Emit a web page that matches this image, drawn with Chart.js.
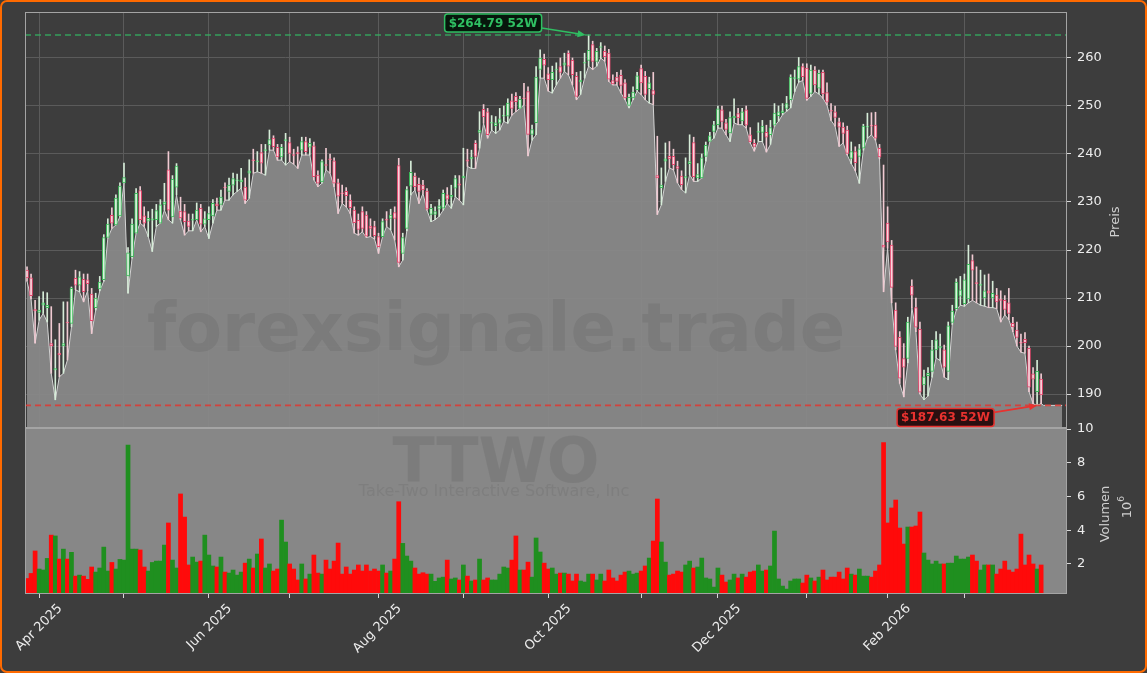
<!doctype html>
<html lang="en">
<head>
<meta charset="utf-8" />
<title>TTWO</title>
<script src="https://cdn.jsdelivr.net/npm/chart.js@4.4.3/dist/chart.umd.min.js"></script>
<style>
  html, body { margin: 0; padding: 0; background: #3d3d3d; }
  #frame { position: relative; width: 1147px; height: 673px; background: #3d3d3d; overflow: hidden; }
  #frame::after { content: ""; position: absolute; inset: 0; border: 2px solid #ff6a00; border-radius: 7px; pointer-events: none; }
  #priceCanvas { position: absolute; left: 0; top: 0; }
  #volCanvas { position: absolute; left: 0; top: 408px; }
</style>
</head>
<body>
<div id="frame">
  <canvas id="priceCanvas" width="1147" height="428"></canvas>
  <canvas id="volCanvas" width="1147" height="265"></canvas>
</div>
<script>
// trading-day index 0 = 27 Mar 2025, 251 = 27 Mar 2026
const monthIdx = [3, 24, 45, 65, 87, 108, 129, 152, 171, 193, 213, 232];
const monthLabels = ["Apr 2025", "", "Jun 2025", "", "Aug 2025", "", "Oct 2025", "", "Dec 2025", "", "Feb 2026", ""];

const openP = [
  215.8, 214.2, 207.6, 207.0, 208.5, 208.0, 200.5, 195.0, 198.5, 200.0,
  205.0, 204.7, 214.1, 212.7, 213.9, 213.8, 210.8, 208.0, 211.9, 213.8,
  222.6, 227.2, 225.2, 227.1, 234.0, 214.6, 218.6, 223.5, 232.4, 227.1,
  226.0, 226.2, 226.3, 225.6, 229.5, 236.7, 226.9, 233.1, 228.1, 228.0,
  226.0, 226.2, 226.3, 228.7, 225.4, 226.3, 227.1, 229.6, 229.5, 233.1,
  232.2, 233.5, 234.4, 234.2, 233.1, 236.0, 238.8, 238.4, 240.3, 240.7,
  241.9, 243.3, 241.4, 239.4, 242.8, 242.4, 239.9, 240.3, 240.8, 242.6,
  241.4, 241.7, 235.6, 234.2, 237.8, 239.0, 238.6, 234.0, 231.9, 232.2,
  230.4, 228.3, 226.2, 228.0, 227.3, 225.0, 224.9, 222.8, 222.8, 226.4,
  226.6, 227.8, 237.6, 219.3, 224.5, 233.3, 235.4, 233.7, 233.5, 232.3,
  227.4, 227.4, 228.5, 228.7, 231.5, 231.0, 232.9, 233.8, 235.0, 238.8,
  239.0, 242.2, 244.5, 249.3, 248.8, 246.4, 245.9, 246.4, 247.9, 247.9,
  251.1, 252.0, 249.5, 251.7, 253.0, 244.1, 246.5, 257.6, 259.7, 256.7,
  255.5, 257.5, 258.2, 258.5, 261.0, 259.5, 256.2, 255.0, 258.9, 259.5,
  262.8, 259.3, 262.2, 261.4, 261.0, 255.3, 256.0, 256.4, 254.8, 250.1,
  251.7, 253.4, 257.8, 256.2, 253.6, 253.2, 235.5, 233.0, 238.5, 239.5,
  239.5, 237.4, 235.4, 235.0, 238.0, 242.4, 235.0, 235.0, 239.5, 242.6,
  244.7, 246.1, 249.2, 246.5, 244.4, 247.5, 248.4, 246.9, 249.2, 244.0,
  242.2, 244.5, 244.5, 244.5, 244.0, 246.0, 248.0, 248.6, 249.5, 251.3,
  255.7, 255.6, 258.2, 257.9, 252.6, 257.5, 253.7, 257.0, 252.8, 249.1,
  248.8, 246.7, 245.6, 245.0, 239.1, 240.5, 239.5, 241.2, 245.6, 246.0,
  246.0, 241.2, 221.0, 225.6, 221.0, 207.5, 201.8, 197.4, 197.4, 212.5,
  208.0, 203.5, 191.9, 193.8, 194.7, 199.2, 199.6, 199.2, 194.7, 204.9,
  207.8, 210.4, 208.8, 209.8, 217.8, 213.2, 212.6, 210.0, 211.5, 210.0,
  210.6, 209.7, 209.5, 209.0, 204.7, 203.3, 200.8, 201.4, 199.5, 194.2,
  190.5, 193.1
];
const highP = [
  216.5, 215.0, 209.5, 210.3, 211.3, 211.1, 208.2, 201.3, 204.7, 209.2,
  209.2, 212.3, 215.8, 215.5, 215.0, 215.0, 212.0, 211.0, 214.5, 223.2,
  226.5, 228.8, 231.5, 234.0, 238.1, 220.5, 226.5, 232.8, 233.2, 229.0,
  228.0, 228.5, 229.5, 230.5, 233.9, 240.5, 235.5, 238.0, 231.0, 229.5,
  227.5, 227.5, 229.8, 229.5, 228.0, 229.0, 230.5, 230.8, 232.5, 234.0,
  235.0, 236.0, 235.8, 237.0, 235.0, 238.8, 241.0, 240.5, 242.0, 242.0,
  245.0, 243.8, 242.0, 242.0, 244.3, 243.5, 241.0, 241.5, 243.5, 243.5,
  243.2, 242.5, 236.5, 238.8, 241.2, 240.0, 239.2, 234.8, 233.5, 233.0,
  231.5, 229.0, 227.5, 229.0, 228.0, 226.5, 226.0, 223.5, 226.5, 228.0,
  228.5, 229.0, 239.1, 223.5, 233.2, 238.5, 236.0, 235.0, 234.5, 232.8,
  229.5, 229.0, 230.5, 232.5, 233.0, 233.5, 235.5, 235.5, 241.2, 241.0,
  240.8, 242.8, 248.8, 250.3, 249.5, 248.0, 247.8, 249.5, 250.0, 251.5,
  252.5, 252.8, 252.0, 254.7, 254.0, 246.0, 258.2, 261.7, 260.8, 258.0,
  258.3, 259.0, 260.0, 261.0, 261.5, 260.0, 257.0, 257.2, 261.0, 264.79,
  263.5, 262.0, 263.2, 262.5, 261.8, 256.5, 257.0, 257.5, 255.5, 252.5,
  254.0, 257.0, 258.5, 257.2, 256.0, 257.0, 243.7, 237.1, 242.3, 242.6,
  241.0, 238.5, 236.5, 239.2, 244.0, 243.5, 238.0, 240.0, 242.5, 244.5,
  246.8, 250.0, 250.0, 247.2, 248.8, 251.5, 249.5, 249.5, 250.0, 245.5,
  243.0, 246.5, 247.0, 246.0, 247.0, 250.5, 250.0, 250.5, 252.0, 256.5,
  257.5, 260.1, 258.8, 258.8, 258.5, 258.2, 257.5, 257.5, 254.8, 250.5,
  250.0, 247.5, 246.5, 245.8, 242.5, 241.5, 242.0, 246.2, 248.5, 248.6,
  248.7, 242.0, 237.7, 229.0, 222.0, 209.0, 203.0, 200.5, 206.0, 213.8,
  210.0, 205.0, 195.0, 195.5, 201.2, 203.0, 202.5, 200.2, 205.0, 208.5,
  214.0, 214.5, 215.0, 221.0, 219.0, 216.5, 215.8, 214.8, 215.0, 213.5,
  212.0, 211.5, 210.5, 212.0, 206.0, 205.0, 202.5, 202.8, 200.0, 195.5,
  197.0, 194.2
];
const lowP = [
  213.5, 209.8, 200.6, 205.4, 206.8, 205.0, 194.3, 188.8, 193.6, 194.3,
  197.1, 204.0, 211.7, 211.3, 209.2, 211.5, 202.6, 207.5, 211.5, 213.5,
  222.5, 224.5, 225.2, 226.9, 233.9, 211.0, 218.3, 223.5, 225.6, 224.9,
  222.8, 219.7, 224.9, 225.6, 228.3, 226.3, 225.6, 231.5, 226.3, 223.1,
  224.0, 224.0, 226.3, 223.8, 224.9, 222.4, 225.6, 228.3, 228.3, 230.4,
  230.4, 231.5, 232.2, 232.9, 229.7, 230.8, 236.0, 236.3, 236.0, 235.6,
  240.8, 240.8, 238.7, 238.75, 237.7, 238.4, 237.9, 237.0, 239.8, 239.8,
  239.8, 234.6, 233.2, 233.9, 236.7, 236.0, 233.2, 227.6, 229.7, 229.0,
  227.6, 223.5, 223.1, 223.8, 222.6, 222.8, 222.3, 219.3, 222.8, 224.9,
  224.2, 222.1, 216.5, 217.9, 224.0, 231.5, 232.5, 229.7, 231.8, 228.3,
  225.9, 226.3, 227.0, 228.3, 229.7, 228.7, 231.1, 230.4, 229.4, 237.4,
  237.0, 237.0, 241.2, 246.4, 243.3, 245.0, 244.3, 245.0, 246.8, 246.4,
  248.1, 248.8, 249.5, 250.2, 239.6, 242.9, 244.0, 255.8, 255.8, 253.1,
  252.7, 254.4, 255.8, 257.2, 256.5, 254.4, 251.3, 252.4, 255.8, 258.3,
  257.6, 258.3, 260.0, 259.3, 255.1, 254.4, 254.4, 252.7, 251.3, 249.6,
  251.3, 253.1, 252.4, 251.3, 250.6, 250.3, 227.4, 229.4, 234.3, 237.1,
  236.7, 234.0, 232.6, 231.9, 235.7, 234.3, 234.3, 235.0, 238.5, 242.6,
  243.3, 245.4, 245.4, 244.0, 242.6, 246.5, 246.1, 246.1, 245.4, 242.3,
  240.6, 242.6, 242.6, 240.4, 242.0, 245.8, 246.8, 248.2, 248.9, 249.6,
  253.0, 255.0, 255.3, 251.2, 252.0, 253.0, 252.5, 251.6, 250.2, 247.0,
  245.8, 241.6, 242.3, 239.8, 238.0, 236.5, 233.9, 240.8, 243.3, 244.0,
  242.9, 239.0, 211.3, 220.4, 209.0, 199.2, 192.2, 189.4, 196.5, 208.0,
  203.0, 190.0, 188.8, 189.6, 193.5, 197.5, 197.0, 193.5, 193.0, 204.5,
  207.5, 208.5, 208.3, 209.0, 209.5, 209.0, 208.5, 208.3, 208.0, 208.0,
  207.8, 205.0, 206.5, 205.5, 203.0, 200.0, 198.7, 198.5, 190.5, 188.0,
  187.63, 188.0
];
const closeP = [
  214.2, 210.5, 207.3, 207.5, 209.0, 208.5, 200.0, 195.3, 198.2, 200.5,
  204.8, 212.0, 212.7, 214.4, 211.3, 213.0, 205.3, 210.0, 213.3, 222.6,
  225.4, 225.6, 230.8, 233.3, 235.1, 219.4, 225.4, 231.8, 226.3, 225.6,
  226.6, 226.5, 228.2, 229.4, 230.0, 228.3, 234.7, 237.5, 226.7, 225.9,
  224.9, 226.4, 228.3, 225.4, 226.5, 227.6, 229.7, 229.2, 231.0, 233.0,
  233.5, 234.9, 234.6, 234.6, 230.4, 236.5, 238.6, 238.6, 238.1, 240.9,
  243.0, 241.5, 239.4, 241.4, 243.0, 240.1, 239.7, 240.0, 242.6, 240.5,
  242.2, 235.3, 233.9, 238.4, 237.6, 238.8, 233.9, 231.2, 231.7, 231.3,
  228.8, 225.7, 224.3, 224.5, 222.9, 224.5, 223.0, 220.7, 225.9, 226.2,
  227.3, 226.6, 217.4, 222.6, 232.6, 236.2, 233.2, 232.2, 232.5, 228.5,
  228.7, 228.0, 229.2, 231.8, 230.6, 231.4, 234.9, 233.5, 235.4, 238.5,
  239.3, 239.5, 245.0, 247.8, 244.0, 246.6, 246.5, 247.3, 248.1, 250.6,
  249.5, 250.9, 251.4, 251.5, 244.1, 245.1, 256.0, 260.0, 258.5, 255.5,
  257.0, 257.7, 257.0, 259.0, 258.3, 256.5, 252.0, 255.4, 259.1, 261.6,
  259.3, 261.4, 262.4, 260.3, 255.6, 254.6, 255.1, 254.3, 251.7, 251.8,
  252.9, 256.3, 254.8, 252.4, 254.8, 252.4, 235.0, 233.5, 239.0, 239.0,
  237.8, 237.0, 233.6, 235.3, 238.4, 235.3, 235.7, 239.2, 241.8, 243.8,
  246.1, 249.4, 246.8, 245.1, 247.6, 247.9, 247.5, 248.8, 246.0, 242.5,
  241.6, 244.7, 245.8, 243.5, 245.5, 248.5, 248.8, 249.0, 250.5, 256.0,
  255.9, 258.2, 256.1, 251.6, 257.5, 254.4, 256.8, 252.5, 250.8, 248.9,
  247.6, 245.6, 244.3, 240.1, 240.5, 238.2, 241.1, 245.8, 245.8, 245.8,
  243.3, 239.4, 220.6, 221.7, 212.2, 199.9, 193.3, 195.6, 205.0, 210.6,
  203.9, 190.4, 193.6, 194.3, 199.2, 201.3, 199.9, 195.6, 204.2, 207.3,
  213.3, 211.7, 213.8, 217.0, 215.8, 213.0, 212.9, 211.5, 211.0, 211.0,
  209.2, 209.5, 207.6, 206.8, 204.0, 201.8, 200.6, 200.7, 191.4, 193.1,
  194.7, 189.8
];
// volume in millions
const volume = [
  1.14, 1.44, 2.77, 1.70, 1.64, 2.33, 3.71, 3.66, 2.29, 2.88,
  2.29, 2.69, 1.28, 1.34, 1.28, 1.09, 1.82, 1.52, 1.76, 3.00,
  1.58, 2.09, 1.70, 2.27, 2.23, 9.05, 2.88, 2.88, 2.83, 1.82,
  1.58, 2.09, 2.17, 2.17, 3.12, 4.43, 2.23, 1.76, 6.15, 4.78,
  1.94, 2.41, 2.11, 2.17, 3.71, 2.53, 1.88, 1.82, 2.41, 1.52,
  1.46, 1.64, 1.34, 1.52, 2.05, 2.29, 1.76, 2.59, 3.48, 1.76,
  2.00, 1.58, 1.70, 4.60, 3.30, 2.00, 1.70, 1.05, 2.00, 1.11,
  1.40, 2.53, 1.46, 1.40, 2.23, 1.70, 2.17, 3.24, 1.40, 1.82,
  1.40, 1.64, 1.94, 1.58, 1.94, 1.58, 1.70, 1.58, 1.94, 1.46,
  1.58, 2.29, 5.69, 3.22, 2.47, 2.17, 1.76, 1.40, 1.48, 1.40,
  1.40, 0.97, 1.17, 1.22, 2.23, 1.11, 1.17, 1.05, 1.94, 1.28,
  0.99, 1.05, 2.29, 1.05, 1.17, 1.05, 1.05, 1.40, 1.82, 1.76,
  2.23, 3.66, 1.64, 1.64, 2.11, 1.22, 3.54, 2.71, 2.05, 1.70,
  1.76, 1.40, 1.46, 1.46, 1.40, 0.99, 1.40, 0.99, 0.93, 1.40,
  1.40, 1.05, 1.40, 0.99, 1.64, 1.17, 0.99, 1.34, 1.52, 1.58,
  1.40, 1.46, 1.58, 1.88, 2.35, 3.36, 5.85, 3.30, 2.11, 1.34,
  1.40, 1.58, 1.52, 1.94, 2.17, 1.76, 1.82, 2.35, 1.17, 1.11,
  0.63, 1.76, 1.34, 0.93, 1.05, 1.40, 1.17, 1.40, 1.22, 1.52,
  1.58, 1.94, 1.58, 1.64, 1.88, 3.95, 1.11, 0.69, 0.51, 0.99,
  1.11, 1.11, 0.87, 1.34, 1.17, 0.99, 1.22, 1.64, 1.05, 1.22,
  1.22, 1.52, 1.11, 1.76, 1.40, 1.34, 1.70, 1.28, 1.28, 1.22,
  1.58, 1.94, 9.19, 4.43, 5.32, 5.79, 4.13, 3.18, 4.19, 4.19,
  4.25, 5.08, 2.65, 2.23, 2.00, 2.17, 2.00, 2.00, 2.05, 2.05,
  2.47, 2.29, 2.29, 2.41, 2.53, 2.17, 1.64, 1.94, 1.94, 1.94,
  1.40, 1.70, 2.17, 1.64, 1.52, 1.70, 3.77, 1.94, 2.53, 2.00,
  1.70, 1.94
];

const high52 = 264.79, high52Idx = 139;
const low52 = 187.63, low52Idx = 250;
// the grey fill runs on flat past the last candle
const areaTailX = [251.6, 256.2];
const areaTailY = [187.63, 187.63];

const xMin = -0.5, xMax = 257.4;
const priceMin = 182.92, priceMax = 269.58;
const volMin = 0.22, volMax = 10.06;

Chart.defaults.font.family = '"DejaVu Sans", sans-serif';
Chart.defaults.font.size = 13;

const idx = openP.map((_, i) => i);
const isUp = (i) => closeP[i] >= openP[i];

const tickFont = { family: '"DejaVu Sans", sans-serif', size: 13 };
const setMonthTicks = (scale) => { scale.ticks = monthIdx.map((v) => ({ value: v })); };

const framePlugin = {
  id: "frame",
  afterDatasetsDraw(chart) {
    const { ctx, chartArea: a } = chart;
    ctx.save();
    ctx.strokeStyle = "#a4a4a4";
    ctx.lineWidth = 1;
    ctx.strokeRect(a.left + 0.5, a.top + 0.5, a.right - a.left - 1, a.bottom - a.top - 1);
    ctx.restore();
  },
};

function drawArrow(ctx, x0, y0, x1, y1, color) {
  const ang = Math.atan2(y1 - y0, x1 - x0);
  const c = Math.cos(ang), s = Math.sin(ang);
  ctx.strokeStyle = color;
  ctx.fillStyle = color;
  ctx.lineWidth = 1.6;
  ctx.beginPath();
  ctx.moveTo(x0, y0);
  ctx.lineTo(x1 - 6 * c, y1 - 6 * s);
  ctx.stroke();
  ctx.beginPath();
  ctx.moveTo(x1, y1);
  ctx.lineTo(x1 - 8 * c + 3.5 * s, y1 - 8 * s - 3.5 * c);
  ctx.lineTo(x1 - 8 * c - 3.5 * s, y1 - 8 * s + 3.5 * c);
  ctx.closePath();
  ctx.fill();
}

function drawTag(ctx, left, top, text, fg, bg) {
  ctx.font = 'bold 12px "DejaVu Sans"';
  const w = Math.round(ctx.measureText(text).width) + 8;
  const h = 18;
  ctx.beginPath();
  ctx.roundRect(left, top, w, h, 3);
  ctx.fillStyle = bg;
  ctx.fill();
  ctx.lineWidth = 1.5;
  ctx.strokeStyle = fg;
  ctx.stroke();
  ctx.fillStyle = fg;
  ctx.textBaseline = "middle";
  ctx.textAlign = "left";
  ctx.fillText(text, left + 4, top + h / 2 + 0.5);
  return w;
}

const pricePlugin = {
  id: "priceExtras",
  afterDatasetsDraw(chart) {
    const { ctx } = chart;
    ctx.save();
    // watermark
    ctx.font = 'bold 67px "DejaVu Sans"';
    ctx.fillStyle = "rgba(70,70,70,0.15)";
    ctx.textAlign = "center";
    ctx.textBaseline = "alphabetic";
    ctx.fillText("forexsignale.trade", 496, 351);
    ctx.restore();
  },
  afterDraw(chart) {
    const { ctx, chartArea: a, scales: { x, y } } = chart;
    ctx.save();
    const hx = x.getPixelForValue(high52Idx) - 3, hy = y.getPixelForValue(high52);
    const gl = hx - 141, gt = hy - 21;
    const gw = drawTag(ctx, gl, gt, "$" + high52.toFixed(2) + " 52W", "#2fbf62", "#07170c");
    drawArrow(ctx, gl + gw, gt + 14, hx, hy, "#2fbf62");

    const lx = x.getPixelForValue(low52Idx), ly = y.getPixelForValue(low52);
    const rl = lx - 140, rt = ly + 3;
    const rw = drawTag(ctx, rl, rt, "$" + low52.toFixed(2) + " 52W", "#e8322f", "#2a0f10");
    drawArrow(ctx, rl + rw, rt + 4, lx, ly, "#e8322f");

    // axis title
    ctx.translate(a.right + 49, (a.top + a.bottom) / 2 + 2);
    ctx.rotate(-Math.PI / 2);
    ctx.font = '13px "DejaVu Sans"';
    ctx.fillStyle = "#cfcfcf";
    ctx.textAlign = "center";
    ctx.textBaseline = "middle";
    ctx.fillText("Preis", 0, 0);
    ctx.restore();
  },
};

const volPlugin = {
  id: "volExtras",
  beforeDraw(chart) {
    const { ctx, chartArea: a } = chart;
    ctx.save();
    ctx.fillStyle = "#878787";
    ctx.fillRect(a.left, a.top, a.right - a.left, a.bottom - a.top);
    ctx.restore();
  },
  beforeDatasetsDraw(chart) {
    const { ctx, chartArea: a } = chart;
    ctx.save();
    ctx.textAlign = "center";
    ctx.textBaseline = "alphabetic";
    ctx.fillStyle = "rgba(70,70,70,0.15)";
    ctx.font = 'bold 62px "DejaVu Sans"';
    ctx.fillText("TTWO", 496, a.top + 54);
    ctx.fillStyle = "rgba(70,70,70,0.13)";
    ctx.font = '16px "DejaVu Sans"';
    ctx.fillText("Take-Two Interactive Software, Inc", 494, a.top + 68);
    ctx.restore();
  },
  afterDraw(chart) {
    const { ctx, chartArea: a } = chart;
    const cy = (a.top + a.bottom) / 2;
    ctx.save();
    ctx.fillStyle = "#cfcfcf";
    ctx.textBaseline = "middle";
    ctx.textAlign = "center";
    ctx.save();
    ctx.translate(a.right + 39, cy + 3);
    ctx.rotate(-Math.PI / 2);
    ctx.font = '13px "DejaVu Sans"';
    ctx.fillText("Volumen", 0, 0);
    ctx.restore();
    ctx.translate(a.right + 60, cy - 4);
    ctx.rotate(-Math.PI / 2);
    ctx.font = '13px "DejaVu Sans"';
    ctx.fillText("10", -3, 1);
    ctx.font = '9px "DejaVu Sans"';
    ctx.fillText("6", 8, -5);
    ctx.restore();
  },
};

new Chart(document.getElementById("priceCanvas"), {
  type: "bar",
  data: {
    datasets: [
      {
        type: "line",
        label: "52W high",
        data: [{ x: xMin, y: high52 }, { x: xMax, y: high52 }],
        borderColor: "rgba(50,175,95,0.85)",
        borderWidth: 1.6,
        borderDash: [6, 4],
        pointRadius: 0,
        order: 0,
      },
      {
        type: "line",
        label: "52W low",
        data: [{ x: xMin, y: low52 }, { x: xMax, y: low52 }],
        borderColor: "rgba(225,55,50,0.85)",
        borderWidth: 1.6,
        borderDash: [6, 4],
        pointRadius: 0,
        order: 0,
      },
      {
        label: "body",
        data: idx.map((i) => ({ x: i, y: [Math.min(openP[i], closeP[i]), Math.max(openP[i], closeP[i])] })),
        backgroundColor: idx.map((i) => (isUp(i) ? "#dcf2de" : "#f7d6dd")),
        borderColor: idx.map((i) => (isUp(i) ? "#3cbb5a" : "#e3466c")),
        borderWidth: 1,
        borderSkipped: false,
        barThickness: 3,
        grouped: false,
        order: 1,
      },
      {
        label: "wick",
        data: idx.map((i) => ({ x: i, y: [lowP[i], highP[i]] })),
        backgroundColor: idx.map((i) => (isUp(i) ? "#d6ecd8" : "#f0cad2")),
        borderWidth: 0,
        barThickness: 1,
        grouped: false,
        order: 2,
      },
      {
        type: "line",
        label: "low",
        data: idx.map((i) => ({ x: i, y: lowP[i] })).concat(areaTailX.map((v, k) => ({ x: v, y: areaTailY[k] }))),
        borderColor: "#d4d4d4",
        borderWidth: 1,
        pointRadius: 0,
        tension: 0,
        fill: "start",
        backgroundColor: "rgba(138,138,138,0.93)",
        order: 3,
      },
    ],
  },
  options: {
    responsive: false,
    animation: false,
    devicePixelRatio: 1,
    layout: { padding: { left: 25, top: 12, right: 0, bottom: 0 } },
    plugins: { legend: { display: false }, tooltip: { enabled: false } },
    scales: {
      x: {
        type: "linear",
        min: xMin,
        max: xMax,
        offset: false,
        afterBuildTicks: setMonthTicks,
        ticks: { display: false },
        grid: { color: "#5b5b5b", drawTicks: false, offset: false },
        border: { display: false },
        afterFit: (s) => { s.height = 0; s.paddingLeft = 0; s.paddingRight = 0; },
      },
      y: {
        type: "linear",
        position: "right",
        min: priceMin,
        max: priceMax,
        ticks: { stepSize: 10, includeBounds: false, color: "#ececec", font: tickFont, padding: 6 },
        grid: { color: "#5b5b5b", tickColor: "#d8d8d8", tickLength: 4 },
        border: { display: false },
        afterFit: (s) => { s.width = 80; s.paddingTop = 0; s.paddingBottom = 0; },
      },
    },
  },
  plugins: [framePlugin, pricePlugin],
});

new Chart(document.getElementById("volCanvas"), {
  type: "bar",
  data: {
    datasets: [
      {
        label: "Volumen",
        data: idx.map((i) => ({ x: i, y: volume[i] })),
        backgroundColor: idx.map((i) => (isUp(i) ? "#1f8f1f" : "#ff0a0a")),
        borderWidth: 0,
        barPercentage: 1,
        categoryPercentage: 1,
        grouped: false,
      },
    ],
  },
  options: {
    responsive: false,
    animation: false,
    devicePixelRatio: 1,
    layout: { padding: { left: 25, top: 20, right: 0, bottom: 0 } },
    plugins: { legend: { display: false }, tooltip: { enabled: false } },
    scales: {
      x: {
        type: "linear",
        min: xMin,
        max: xMax,
        offset: false,
        afterBuildTicks: setMonthTicks,
        ticks: {
          autoSkip: false,
          minRotation: 45,
          maxRotation: 45,
          labelOffset: 21,
          padding: 3,
          color: "#ececec",
          font: tickFont,
          callback: (v, i) => monthLabels[i],
        },
        grid: { drawOnChartArea: false, tickColor: "#d8d8d8", tickLength: 4, offset: false },
        border: { display: false },
        afterFit: (s) => { s.height = 79; s.paddingLeft = 0; s.paddingRight = 0; },
      },
      y: {
        type: "linear",
        position: "right",
        min: volMin,
        max: volMax,
        ticks: { stepSize: 2, includeBounds: false, color: "#ececec", font: tickFont, padding: 6 },
        grid: { drawOnChartArea: false, tickColor: "#d8d8d8", tickLength: 4 },
        border: { display: false },
        afterFit: (s) => { s.width = 80; s.paddingTop = 0; s.paddingBottom = 0; },
      },
    },
  },
  plugins: [volPlugin, framePlugin],
});
</script>
</body>
</html>
